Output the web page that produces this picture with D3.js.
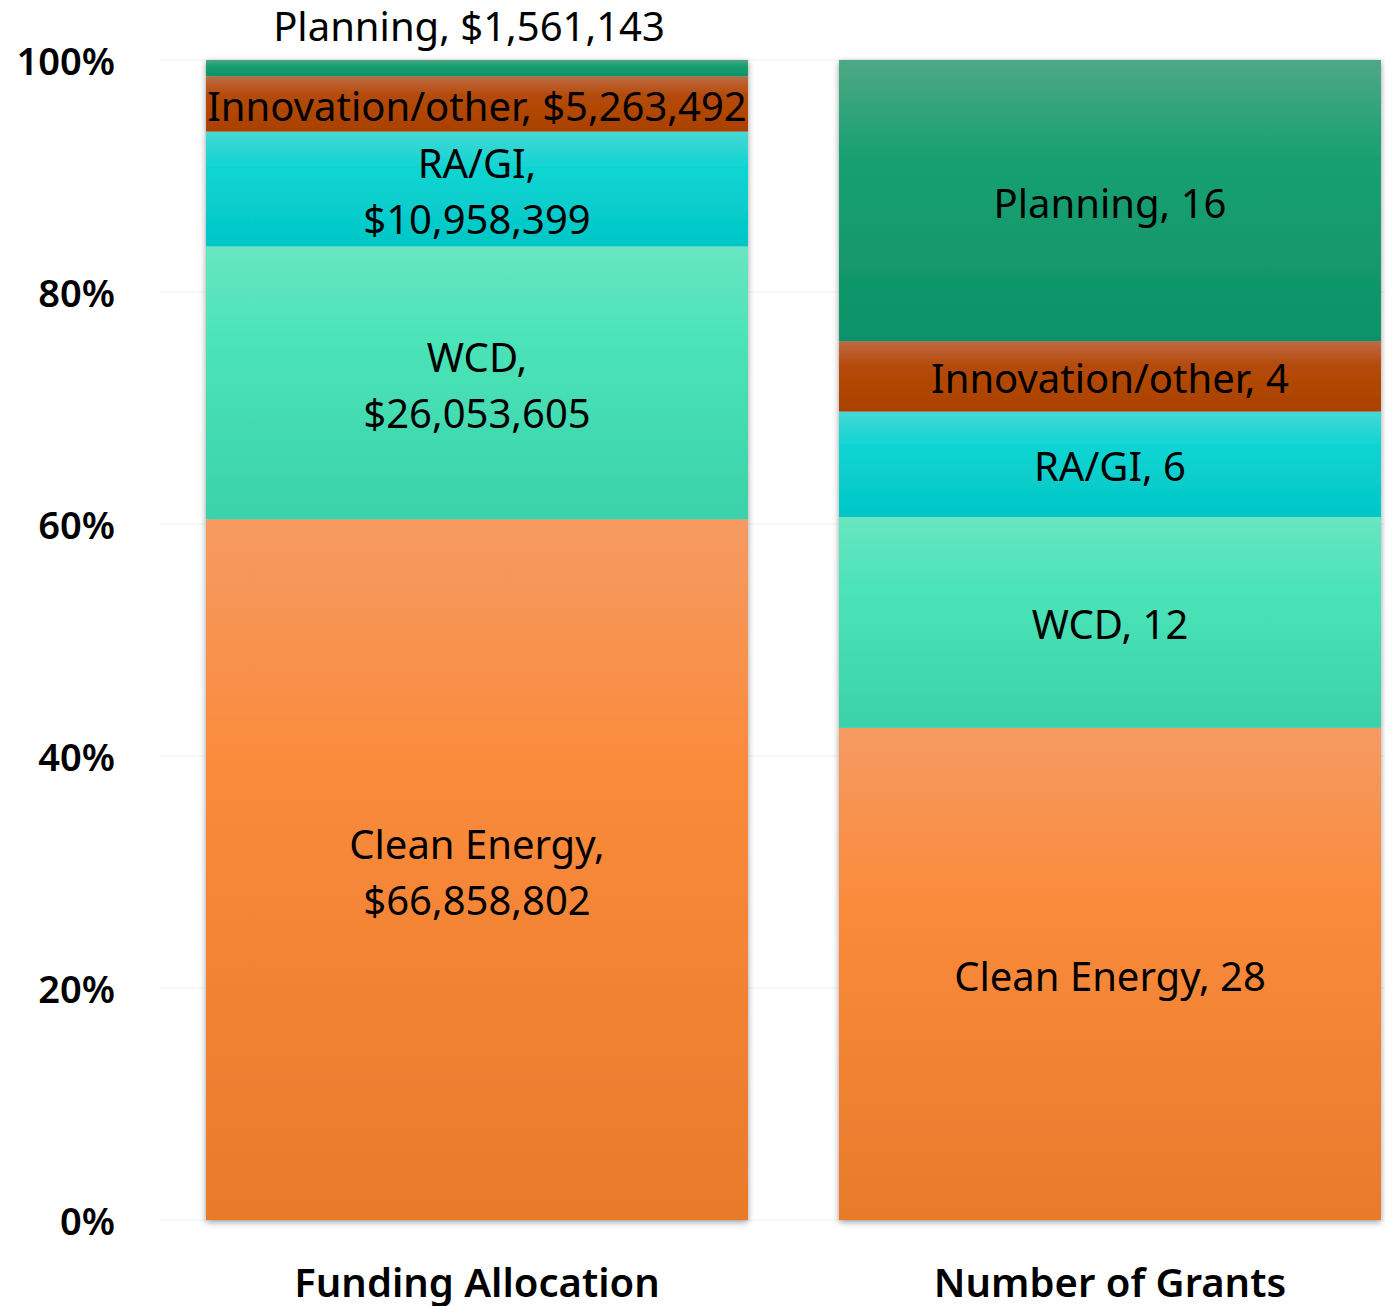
<!DOCTYPE html>
<html>
<head>
<meta charset="utf-8">
<script src="https://cdn.jsdelivr.net/npm/d3@7"></script>
<style>
  html, body { margin: 0; padding: 0; background: #fff; }
  svg text { font-family: "Noto Sans", "Open Sans", sans-serif; fill: #000; }
</style>
</head>
<body>
<svg id="chart" width="1385" height="1306"></svg>
<script>
const categories = ["Funding Allocation", "Number of Grants"];
const seriesNames = ["Clean Energy", "WCD", "RA/GI", "Innovation/other", "Planning"];
const fundingValues = [66858802, 26053605, 10958399, 5263492, 1561143];
const grantValues = [28, 12, 6, 4, 16];
const yTicks = [0, 0.2, 0.4, 0.6, 0.8, 1];

// light top, full middle, darker bottom
const colors = {
    "Clean Energy":     ["#f59a62", "#fa8b3c", "#e87a2b"],
    "WCD":              ["#68e6c1", "#4be3b8", "#3bd2a9"],
    "RA/GI":            ["#46d8d5", "#0ad4d2", "#04c6c6"],
    "Innovation/other": ["#bf6a45", "#b44a08", "#aa4100"],
    "Planning":         ["#4ea886", "#18a071", "#0e9268"]
};

const margin = { top: 60, bottom: 86 },
      W = 1385, H = 1306;

const svg = d3.select("#chart");
const defs = svg.append("defs");

seriesNames.forEach((s, i) => {
    const g = defs.append("linearGradient")
        .attr("id", "grad" + i)
        .attr("x1", 0).attr("y1", 0).attr("x2", 0).attr("y2", 1);
    g.append("stop").attr("offset", "0%").attr("stop-color", colors[s][0]);
    g.append("stop").attr("offset", "35%").attr("stop-color", colors[s][1]);
    g.append("stop").attr("offset", "100%").attr("stop-color", colors[s][2]);
});

const shadow = defs.append("filter").attr("id", "shadow")
    .attr("x", "-5%").attr("y", "-5%").attr("width", "110%").attr("height", "110%");
shadow.append("feDropShadow")
    .attr("dx", 0).attr("dy", 2)
    .attr("stdDeviation", 3)
    .attr("flood-color", "#000")
    .attr("flood-opacity", 0.4);

const rows = categories.map((c, ci) => {
    const vals = ci === 0 ? fundingValues : grantValues;
    const total = d3.sum(vals);
    const row = { category: c };
    seriesNames.forEach((s, i) => { row[s] = vals[i] / total; row[s + "_raw"] = vals[i]; });
    return row;
});

const stacked = d3.stack().keys(seriesNames)(rows);

const x = d3.scaleBand()
    .domain(categories)
    .range([160, 1427])
    .paddingInner(0.1438)
    .paddingOuter(0.0727);

const y = d3.scaleLinear()
    .domain([0, 1])
    .range([H - margin.bottom, margin.top]);

// faint gridlines
svg.append("g")
    .selectAll("line")
    .data(yTicks)
    .join("line")
    .attr("x1", 160)
    .attr("x2", W)
    .attr("y1", d => y(d))
    .attr("y2", d => y(d))
    .attr("stroke", "#f6f6f6")
    .attr("stroke-width", 1.5);

// y axis labels
const yAxis = svg.append("g")
    .attr("transform", "translate(115,0)")
    .call(d3.axisLeft(y).tickValues(yTicks).tickFormat(d3.format(".0%")).tickSize(0).tickPadding(0));
yAxis.select(".domain").remove();
yAxis.selectAll("text")
    .attr("font-size", 38)
    .attr("font-weight", 600)
    .attr("dy", "0.38em")
    .style("font-family", "'Noto Sans', sans-serif");

// bars
const barGroups = svg.append("g").selectAll("g.bar")
    .data(categories)
    .join("g")
    .attr("class", "bar")
    .attr("filter", "url(#shadow)");

stacked.forEach((layer, si) => {
    layer.forEach((d, ci) => {
        d3.select(barGroups.nodes()[ci]).append("rect")
            .attr("x", x(categories[ci]))
            .attr("width", x.bandwidth())
            .attr("y", y(d[1]))
            .attr("height", y(d[0]) - y(d[1]))
            .attr("fill", `url(#grad${si})`);
    });
});

// segment labels
const fmtMoney = d3.format("$,");
const labels = svg.append("g").attr("font-size", 40);
stacked.forEach(layer => {
    const s = layer.key;
    layer.forEach((d, ci) => {
        const raw = d.data[s + "_raw"];
        const valueText = ci === 0 ? fmtMoney(raw) : String(raw);
        const cx = x(categories[ci]) + x.bandwidth() / 2;
        const top = y(d[1]), bottom = y(d[0]);
        const h = bottom - top;
        let lines;
        if (ci === 0 && h > 100) lines = [s + ",", valueText];
        else lines = [s + ", " + valueText];
        const lineH = 56;
        let cy = (top + bottom) / 2 + 3;
        if (h < 30) cy = top - 33; // too thin: label sits above the bar
        const lx = h < 30 ? cx - 8 : cx;
        const t = labels.append("text")
            .attr("text-anchor", "middle")
            .attr("x", lx)
            .attr("y", cy - (lines.length - 1) * lineH / 2);
        lines.forEach((ln, li) => {
            t.append("tspan")
                .attr("x", lx)
                .attr("dy", li === 0 ? "0.35em" : lineH)
                .text(ln);
        });
    });
});

// category labels
svg.append("g")
    .selectAll("text")
    .data(categories)
    .join("text")
    .attr("x", d => x(d) + x.bandwidth() / 2)
    .attr("y", 1283)
    .attr("dy", "0.35em")
    .attr("text-anchor", "middle")
    .attr("font-size", 40)
    .attr("font-weight", 600)
    .text(d => d);
</script>
</body>
</html>
